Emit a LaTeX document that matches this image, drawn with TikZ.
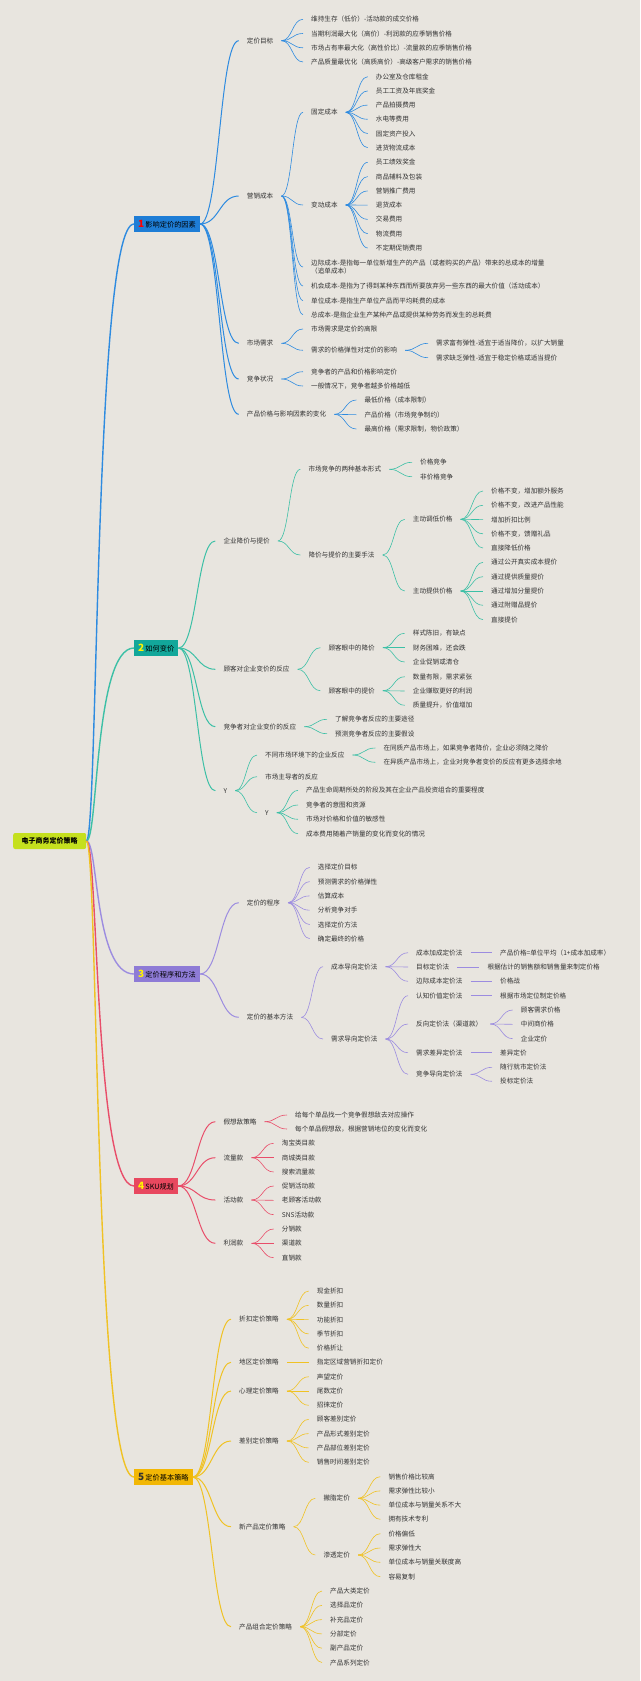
\documentclass[tikz,border=0pt]{standalone}
\usepackage{fontspec}
\setmainfont{Noto Sans CJK SC}
\usepackage{tikz}
\usetikzlibrary{calc}
\definecolor{paper}{HTML}{E8E5DF}
\definecolor{ink}{HTML}{333333}
\definecolor{cone}{HTML}{2E8BE0}
\definecolor{ctwo}{HTML}{3CC0A6}
\definecolor{cthree}{HTML}{9C8CE0}
\definecolor{cfour}{HTML}{E84E6A}
\definecolor{cfive}{HTML}{F0C224}
\definecolor{boxone}{HTML}{1E7DD6}
\definecolor{boxtwo}{HTML}{12A79A}
\definecolor{boxthree}{HTML}{8E7BD6}
\definecolor{boxfour}{HTML}{E8485F}
\definecolor{boxfive}{HTML}{F2B705}
\definecolor{rootcol}{HTML}{C5E01E}
\tikzstyle{leaf} = [anchor=west, inner xsep=8pt, xshift=-8pt, inner ysep=1pt, font=\fontsize{6.6}{8.6}\selectfont, text=ink]
\tikzstyle{topic} = [anchor=west, minimum height=16, inner xsep=4pt, inner ysep=0pt, font=\fontsize{7.2}{9}\selectfont, text=black]
\tikzstyle{central} = [anchor=west, rounded corners=2, fill=rootcol, minimum height=16, minimum width=73, inner xsep=3pt, font=\bfseries\fontsize{7}{9}\selectfont, text=black]
\tikzstyle{lone} = [draw=cone, line width=0.6]
\tikzstyle{ltwo} = [draw=ctwo, line width=0.6]
\tikzstyle{lthree} = [draw=cthree, line width=0.6]
\tikzstyle{lfour} = [draw=cfour, line width=0.6]
\tikzstyle{lfive} = [draw=cfive, line width=0.6]
\newcommand{\link}[3][]{\draw[#1] (#2.east) .. controls ($(#2.east)!.5!(#2.east-|#3.west)$) and ($(#3.west)!.5!(#3.west-|#2.east)$) .. (#3.west);}
\newcommand{\num}[2]{{\bfseries\fontsize{10}{10}\selectfont\textcolor{#1}{#2}}\,}

\begin{document}
\begin{tikzpicture}[x=1pt, y=-1pt]
    \fill[paper] (0,0) rectangle (640,1681);
    \useasboundingbox (0,0) rectangle (640,1681);

    \node (root) [central] at (13,841) {电子商务定价策略};
    \node (factors) [topic, fill=boxone] at (134,224) {\num{red}{1}影响定价的因素};
    \node (change) [topic, fill=boxtwo] at (134,648) {\num{yellow}{2}如何变价};
    \node (method) [topic, fill=boxthree] at (134,974) {\num{yellow}{3}定价程序和方法};
    \node (sku) [topic, fill=boxfour] at (134,1186) {\num{yellow}{4}SKU规划};
    \node (strategy) [topic, fill=boxfive] at (134,1477) {\num{ink}{5}定价基本策略};

    \draw [cone, line width=1.4] (root.east) .. controls +(12,0) and +(-40,0) .. (factors.west);
    \draw [ctwo, line width=1.4] (root.east) .. controls +(12,0) and +(-40,0) .. (change.west);
    \draw [cthree, line width=1.4] (root.east) .. controls +(12,0) and +(-40,0) .. (method.west);
    \draw [cfour, line width=1.4] (root.east) .. controls +(12,0) and +(-40,0) .. (sku.west);
    \draw [cfive, line width=1.4] (root.east) .. controls +(12,0) and +(-40,0) .. (strategy.west);

    % 1 影响定价的因素
    \node (goal) [leaf] at (246.7,40.7) {定价目标};
    \node (cost) [leaf] at (246.7,196) {营销成本};
    \node (demand) [leaf] at (246.7,343.3) {市场需求};
    \node (compete) [leaf] at (246.7,379) {竞争状况};
    \node (range) [leaf] at (246.7,414.3) {产品价格与影响因素的变化};
    \node (goal1) [leaf] at (311,19.3) {维持生存（低价）-活动款的成交价格};
    \node (goal2) [leaf] at (311,33.5) {当期利润最大化（高价）-利润款的应季销售价格};
    \node (goal3) [leaf] at (311,47.8) {市场占有率最大化（高性价比）-流量款的应季销售价格};
    \node (goal4) [leaf] at (311,62) {产品质量最优化（高质高价）-高级客户需求的销售价格};
    \node (fixed) [leaf] at (311,112.3) {固定成本};
    \node (fixed1) [leaf] at (375.7,76.7) {办公室及仓库租金};
    \node (fixed2) [leaf] at (375.7,90.9) {员工工资及年底奖金};
    \node (fixed3) [leaf] at (375.7,105.1) {产品拍摄费用};
    \node (fixed4) [leaf] at (375.7,119.3) {水电等费用};
    \node (fixed5) [leaf] at (375.7,133.5) {固定资产投入};
    \node (fixed6) [leaf] at (375.7,147.7) {进货物流成本};
    \node (variable) [leaf] at (311,205) {变动成本};
    \node (var1) [leaf] at (375.7,162.3) {员工绩效奖金};
    \node (var2) [leaf] at (375.7,176.6) {商品辅料及包装};
    \node (var3) [leaf] at (375.7,190.9) {营销推广费用};
    \node (var4) [leaf] at (375.7,205.1) {退货成本};
    \node (var5) [leaf] at (375.7,219.4) {交易费用};
    \node (var6) [leaf] at (375.7,233.7) {物流费用};
    \node (var7) [leaf] at (375.7,248) {不定期促销费用};
    \node (marginal) [leaf, align=left] at (311,267) {边际成本-是指每一单位新增生产的产品（或者购买的产品）带来的总成本的增量\\（追单成本）};
    \node (opportunity) [leaf] at (311,286) {机会成本-是指为了得到某种东西而所要放弃另一些东西的最大价值（活动成本）};
    \node (unitcost) [leaf] at (311,300.7) {单位成本-是指生产单位产品而平均耗费的成本};
    \node (totalcost) [leaf] at (311,314.7) {总成本-是指企业生产某种产品或提供某种劳务而发生的总耗费};
    \node (demand1) [leaf] at (311,329) {市场需求是定价的高限};
    \node (elastic) [leaf] at (311,350.3) {需求的价格弹性对定价的影响};
    \node (elastic1) [leaf] at (436,343.3) {需求富有弹性-适宜于适当降价，以扩大销量};
    \node (elastic2) [leaf] at (436,357.7) {需求缺乏弹性-适宜于稳定价格或适当提价};
    \node (compete1) [leaf] at (311,371.7) {竞争者的产品和价格影响定价};
    \node (compete2) [leaf] at (311,386) {一般情况下，竞争者越多价格越低};
    \node (range1) [leaf] at (364.3,400) {最低价格（成本限制）};
    \node (range2) [leaf] at (364.3,414.7) {产品价格（市场竞争制约）};
    \node (range3) [leaf] at (364.3,429) {最高价格（需求限制，物价政策）};

    \foreach \c in {goal,cost,demand,compete,range} {\link[lone, line width=1]{factors}{\c}}
    \foreach \c in {goal1,goal2,goal3,goal4} {\link[lone]{goal}{\c}}
    \foreach \c in {fixed,variable,marginal,opportunity,unitcost,totalcost} {\link[lone]{cost}{\c}}
    \foreach \c in {fixed1,fixed2,fixed3,fixed4,fixed5,fixed6} {\link[lone]{fixed}{\c}}
    \foreach \c in {var1,var2,var3,var4,var5,var6,var7} {\link[lone]{variable}{\c}}
    \foreach \c in {demand1,elastic} {\link[lone]{demand}{\c}}
    \foreach \c in {elastic1,elastic2} {\link[lone]{elastic}{\c}}
    \foreach \c in {compete1,compete2} {\link[lone]{compete}{\c}}
    \foreach \c in {range1,range2,range3} {\link[lone]{range}{\c}}

    % 2 如何变价
    \node (raise) [leaf] at (223.3,541) {企业降价与提价};
    \node (customer) [leaf] at (223.3,669.3) {顾客对企业变价的反应};
    \node (rival) [leaf] at (223.3,726.7) {竞争者对企业变价的反应};
    \node (ya) [leaf] at (223.3,790.7) {Y};
    \node (forms) [leaf] at (308.3,469.3) {市场竞争的两种基本形式};
    \node (forms1) [leaf] at (420,462.3) {价格竞争};
    \node (forms2) [leaf] at (420,476.7) {非价格竞争};
    \node (means) [leaf] at (308.3,555) {降价与提价的主要手法};
    \node (cut) [leaf] at (412.7,519.3) {主动调低价格};
    \node (cut1) [leaf] at (491,491) {价格不变，增加额外服务};
    \node (cut2) [leaf] at (491,505.3) {价格不变，改进产品性能};
    \node (cut3) [leaf] at (491,519.6) {增加折扣比例};
    \node (cut4) [leaf] at (491,533.8) {价格不变，馈赠礼品};
    \node (cut5) [leaf] at (491,548) {直接降低价格};
    \node (lift) [leaf] at (412.7,591) {主动提供价格};
    \node (lift1) [leaf] at (491,562.3) {通过公开真实成本提价};
    \node (lift2) [leaf] at (491,576.7) {通过提供质量提价};
    \node (lift3) [leaf] at (491,591) {通过增加分量提价};
    \node (lift4) [leaf] at (491,605.3) {通过附赠品提价};
    \node (lift5) [leaf] at (491,619.7) {直接提价};
    \node (seecut) [leaf] at (328.3,647.7) {顾客眼中的降价};
    \node (seecut1) [leaf] at (412.7,633.3) {样式陈旧，有缺点};
    \node (seecut2) [leaf] at (412.7,647.7) {财务困难，还会跌};
    \node (seecut3) [leaf] at (412.7,662) {企业促销或清仓};
    \node (seelift) [leaf] at (328.3,690.7) {顾客眼中的提价};
    \node (seelift1) [leaf] at (412.7,676.7) {数量有限，需求紧张};
    \node (seelift2) [leaf] at (412.7,691) {企业赚取更好的利润};
    \node (seelift3) [leaf] at (412.7,705.3) {质量提升，价值增加};
    \node (rival1) [leaf] at (335,719.3) {了解竞争者反应的主要途径};
    \node (rival2) [leaf] at (335,733.7) {预测竞争者反应的主要假设};
    \node (market) [leaf] at (265,755) {不同市场环境下的企业反应};
    \node (market1) [leaf] at (383.3,748) {在同质产品市场上，如果竞争者降价，企业必须随之降价};
    \node (market2) [leaf] at (383.3,762.3) {在异质产品市场上，企业对竞争者变价的反应有更多选择余地};
    \node (leader) [leaf] at (265,776.7) {市场主导者的反应};
    \node (yb) [leaf] at (265,812.7) {Y};
    \node (yb1) [leaf] at (306,790.3) {产品生命周期所处的阶段及其在企业产品投资组合的重要程度};
    \node (yb2) [leaf] at (306,805) {竞争者的意图和资源};
    \node (yb3) [leaf] at (306,819.3) {市场对价格和价值的敏感性};
    \node (yb4) [leaf] at (306,833.7) {成本费用随着产销量的变化而变化的情况};

    \foreach \c in {raise,customer,rival,ya} {\link[ltwo, line width=1]{change}{\c}}
    \foreach \c in {forms,means} {\link[ltwo]{raise}{\c}}
    \foreach \c in {forms1,forms2} {\link[ltwo]{forms}{\c}}
    \foreach \c in {cut,lift} {\link[ltwo]{means}{\c}}
    \foreach \c in {cut1,cut2,cut3,cut4,cut5} {\link[ltwo]{cut}{\c}}
    \foreach \c in {lift1,lift2,lift3,lift4,lift5} {\link[ltwo]{lift}{\c}}
    \foreach \c in {seecut,seelift} {\link[ltwo]{customer}{\c}}
    \foreach \c in {seecut1,seecut2,seecut3} {\link[ltwo]{seecut}{\c}}
    \foreach \c in {seelift1,seelift2,seelift3} {\link[ltwo]{seelift}{\c}}
    \foreach \c in {rival1,rival2} {\link[ltwo]{rival}{\c}}
    \foreach \c in {market,leader,yb} {\link[ltwo]{ya}{\c}}
    \foreach \c in {market1,market2} {\link[ltwo]{market}{\c}}
    \foreach \c in {yb1,yb2,yb3,yb4} {\link[ltwo]{yb}{\c}}

    % 3 定价程序和方法
    \node (procedure) [leaf] at (246.7,902.7) {定价的程序};
    \node (proc1) [leaf] at (317.7,867.3) {选择定价目标};
    \node (proc2) [leaf] at (317.7,881.6) {预测需求的价格弹性};
    \node (proc3) [leaf] at (317.7,895.9) {估算成本};
    \node (proc4) [leaf] at (317.7,910.2) {分析竞争对手};
    \node (proc5) [leaf] at (317.7,924.5) {选择定价方法};
    \node (proc6) [leaf] at (317.7,938.7) {确定最终的价格};
    \node (basic) [leaf] at (246.7,1017.3) {定价的基本方法};
    \node (costbased) [leaf] at (331,966.7) {成本导向定价法};
    \node (plus) [leaf] at (416,952.7) {成本加成定价法};
    \node (plusv) [leaf] at (500,952.7) {产品价格=单位平均（1+成本加成率）};
    \node (target) [leaf] at (416,967) {目标定价法};
    \node (targetv) [leaf] at (487.3,967) {根据估计的销售额和销售量来制定价格};
    \node (margin) [leaf] at (416,981.3) {边际成本定价法};
    \node (marginv) [leaf] at (500,981.3) {价格战};
    \node (demandbased) [leaf] at (331,1039) {需求导向定价法};
    \node (perceived) [leaf] at (416,995.7) {认知价值定价法};
    \node (perceivedv) [leaf] at (500,995.7) {根据市场定位制定价格};
    \node (reverse) [leaf] at (416,1024) {反向定价法（渠道款）};
    \node (rev1) [leaf] at (520.7,1010) {顾客需求价格};
    \node (rev2) [leaf] at (520.7,1024.3) {中间商价格};
    \node (rev3) [leaf] at (520.7,1038.7) {企业定价};
    \node (diff) [leaf] at (416,1052.7) {需求差异定价法};
    \node (diffv) [leaf] at (500,1052.7) {差异定价};
    \node (competebased) [leaf] at (416,1074.3) {竞争导向定价法};
    \node (cb1) [leaf] at (500,1067.3) {随行就市定价法};
    \node (cb2) [leaf] at (500,1081.3) {投标定价法};

    \foreach \c in {procedure,basic} {\link[lthree, line width=1]{method}{\c}}
    \foreach \c in {proc1,proc2,proc3,proc4,proc5,proc6} {\link[lthree]{procedure}{\c}}
    \foreach \c in {costbased,demandbased} {\link[lthree]{basic}{\c}}
    \foreach \c in {plus,target,margin} {\link[lthree]{costbased}{\c}}
    \link[lthree]{plus}{plusv}
    \link[lthree]{target}{targetv}
    \link[lthree]{margin}{marginv}
    \foreach \c in {perceived,reverse,diff,competebased} {\link[lthree]{demandbased}{\c}}
    \link[lthree]{perceived}{perceivedv}
    \foreach \c in {rev1,rev2,rev3} {\link[lthree]{reverse}{\c}}
    \link[lthree]{diff}{diffv}
    \foreach \c in {cb1,cb2} {\link[lthree]{competebased}{\c}}

    % 4 SKU规划
    \node (rivalsku) [leaf] at (223.3,1121.7) {假想敌策略};
    \node (rs1) [leaf] at (295,1115) {给每个单品找一个竞争假想敌去对应操作};
    \node (rs2) [leaf] at (295,1129) {每个单品假想敌，根据营销地位的变化而变化};
    \node (traffic) [leaf] at (223.3,1157.7) {流量款};
    \node (tr1) [leaf] at (281.7,1143.3) {淘宝类目款};
    \node (tr2) [leaf] at (281.7,1157.7) {商城类目款};
    \node (tr3) [leaf] at (281.7,1172) {搜索流量款};
    \node (event) [leaf] at (223.3,1200) {活动款};
    \node (ev1) [leaf] at (281.7,1186) {促销活动款};
    \node (ev2) [leaf] at (281.7,1200.3) {老顾客活动款};
    \node (ev3) [leaf] at (281.7,1214.7) {SNS活动款};
    \node (profit) [leaf] at (223.3,1243.3) {利润款};
    \node (pf1) [leaf] at (281.7,1229) {分销款};
    \node (pf2) [leaf] at (281.7,1243.3) {渠道款};
    \node (pf3) [leaf] at (281.7,1257.7) {直销款};

    \foreach \c in {rivalsku,traffic,event,profit} {\link[lfour, line width=1]{sku}{\c}}
    \foreach \c in {rs1,rs2} {\link[lfour]{rivalsku}{\c}}
    \foreach \c in {tr1,tr2,tr3} {\link[lfour]{traffic}{\c}}
    \foreach \c in {ev1,ev2,ev3} {\link[lfour]{event}{\c}}
    \foreach \c in {pf1,pf2,pf3} {\link[lfour]{profit}{\c}}

    % 5 定价基本策略
    \node (discount) [leaf] at (239,1319.3) {折扣定价策略};
    \node (dc1) [leaf] at (316.7,1291) {现金折扣};
    \node (dc2) [leaf] at (316.7,1305.3) {数量折扣};
    \node (dc3) [leaf] at (316.7,1319.6) {功能折扣};
    \node (dc4) [leaf] at (316.7,1333.9) {季节折扣};
    \node (dc5) [leaf] at (316.7,1348.2) {价格折让};
    \node (region) [leaf] at (239,1362.3) {地区定价策略};
    \node (regionv) [leaf] at (316.7,1362.3) {指定区域营销折扣定价};
    \node (psych) [leaf] at (239,1391) {心理定价策略};
    \node (ps1) [leaf] at (316.7,1376.7) {声望定价};
    \node (ps2) [leaf] at (316.7,1391) {尾数定价};
    \node (ps3) [leaf] at (316.7,1405.3) {招徕定价};
    \node (differ) [leaf] at (239,1441) {差别定价策略};
    \node (df1) [leaf] at (316.7,1419.3) {顾客差别定价};
    \node (df2) [leaf] at (316.7,1433.6) {产品形式差别定价};
    \node (df3) [leaf] at (316.7,1447.9) {产品部位差别定价};
    \node (df4) [leaf] at (316.7,1462.3) {销售时间差别定价};
    \node (newprod) [leaf] at (239,1526.7) {新产品定价策略};
    \node (skim) [leaf] at (323.3,1498.3) {撇脂定价};
    \node (skim1) [leaf] at (388.3,1476.7) {销售价格比较高};
    \node (skim2) [leaf] at (388.3,1490.9) {需求弹性比较小};
    \node (skim3) [leaf] at (388.3,1505.1) {单位成本与销量关系不大};
    \node (skim4) [leaf] at (388.3,1519.3) {拥有技术专利};
    \node (pen) [leaf] at (323.3,1555) {渗透定价};
    \node (pen1) [leaf] at (388.3,1533.7) {价格偏低};
    \node (pen2) [leaf] at (388.3,1548) {需求弹性大};
    \node (pen3) [leaf] at (388.3,1562.3) {单位成本与销量关联度高};
    \node (pen4) [leaf] at (388.3,1576.7) {容易复制};
    \node (mix) [leaf] at (239,1626.7) {产品组合定价策略};
    \node (mix1) [leaf] at (330,1591) {产品大类定价};
    \node (mix2) [leaf] at (330,1605.3) {选择品定价};
    \node (mix3) [leaf] at (330,1619.6) {补充品定价};
    \node (mix4) [leaf] at (330,1633.9) {分部定价};
    \node (mix5) [leaf] at (330,1648.2) {副产品定价};
    \node (mix6) [leaf] at (330,1662.5) {产品系列定价};

    \foreach \c in {discount,region,psych,differ,newprod,mix} {\link[lfive, line width=1]{strategy}{\c}}
    \foreach \c in {dc1,dc2,dc3,dc4,dc5} {\link[lfive]{discount}{\c}}
    \link[lfive]{region}{regionv}
    \foreach \c in {ps1,ps2,ps3} {\link[lfive]{psych}{\c}}
    \foreach \c in {df1,df2,df3,df4} {\link[lfive]{differ}{\c}}
    \foreach \c in {skim,pen} {\link[lfive]{newprod}{\c}}
    \foreach \c in {skim1,skim2,skim3,skim4} {\link[lfive]{skim}{\c}}
    \foreach \c in {pen1,pen2,pen3,pen4} {\link[lfive]{pen}{\c}}
    \foreach \c in {mix1,mix2,mix3,mix4,mix5,mix6} {\link[lfive]{mix}{\c}}
\end{tikzpicture}
\end{document}
